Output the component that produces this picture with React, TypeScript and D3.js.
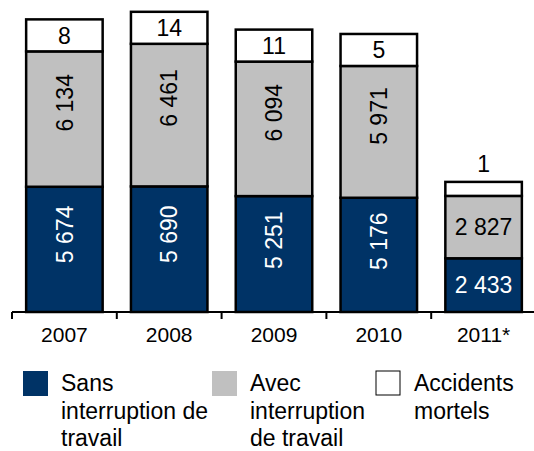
import React from "react";
import * as d3 from "d3";

// data
const years = ["2007", "2008", "2009", "2010", "2011*"];
const sansInterruption = [5674, 5690, 5251, 5176, 2433];
const avecInterruption = [6134, 6461, 6094, 5971, 2827];
const accidentsMortels = [8, 14, 11, 5, 1];
const legendLabels = [
  ["Sans", "interruption de", "travail"],
  ["Avec", "interruption", "de travail"],
  ["Accidents", "mortels"],
];

const W = 534;
const H = 451;
const FONT = "'Liberation Sans', Arial, Helvetica, sans-serif";
const BLUE = "#003366";
const GREY = "#c0c0c0";
const fmt = (v: number) => d3.format(",")(v).replace(/,/g, " ");

export default function App() {
  const base = 312;
  const x = d3
    .scaleBand<string>()
    .domain(years)
    .range([12, 536])
    .paddingInner(0.27)
    .paddingOuter(0.135);
  const y = d3.scaleLinear().domain([0, 14000]).range([base, 3]);

  const stack = years.map((yr, i) => {
    const b = sansInterruption[i];
    const g = avecInterruption[i];
    return { yr, i, b, g, m: accidentsMortels[i], y0: y(0), y1: y(b), y2: y(b + g) };
  });

  const bw = x.bandwidth();
  const step = x.step();
  const last = years.length - 1;

  return (
    <svg
      width={W}
      height={H}
      style={{ position: "absolute", left: 0, top: 0, background: "#fff" }}
      fontFamily={FONT}
    >
      {stack.map((d) => {
        const x0 = x(d.yr)!;
        const cx = x0 + bw / 2;
        const compact = d.i === last;
        const boxH = compact ? 14 : 32;
        const horiz = compact; // short segments get horizontal labels
        const blueMid = d.y1 + (d.y0 - d.y1) * (horiz ? 0.5 : 0.38);
        const greyMid = d.y2 + (d.y1 - d.y2) * (horiz ? 0.5 : 0.38);
        return (
          <g key={d.yr}>
            <rect x={x0} y={d.y1} width={bw} height={d.y0 - d.y1} fill={BLUE} stroke="#000" strokeWidth={2.5} />
            <rect x={x0} y={d.y2} width={bw} height={d.y1 - d.y2} fill={GREY} stroke="#000" strokeWidth={2.5} />
            <rect x={x0} y={d.y2 - boxH} width={bw} height={boxH} fill="#fff" stroke="#000" strokeWidth={2.5} />
            {horiz ? (
              <>
                <text x={cx} y={blueMid} dy="0.36em" textAnchor="middle" fontSize={23} fill="#fff">{fmt(d.b)}</text>
                <text x={cx} y={greyMid} dy="0.36em" textAnchor="middle" fontSize={23} fill="#000">{fmt(d.g)}</text>
              </>
            ) : (
              <>
                <text transform={`translate(${cx},${blueMid}) rotate(-90)`} dy="0.36em" textAnchor="middle" fontSize={23} fill="#fff">{fmt(d.b)}</text>
                <text transform={`translate(${cx},${greyMid}) rotate(-90)`} dy="0.36em" textAnchor="middle" fontSize={23} fill="#000">{fmt(d.g)}</text>
              </>
            )}
            <text
              x={cx}
              y={compact ? d.y2 - boxH - 18 : d.y2 - boxH / 2}
              dy="0.36em"
              textAnchor="middle"
              fontSize={23}
              fill="#000"
            >
              {d.m}
            </text>
            <text x={cx} y={342} textAnchor="middle" fontSize={21} fill="#000">{d.yr}</text>
          </g>
        );
      })}

      {/* axis */}
      <line x1={12} x2={W} y1={base} y2={base} stroke="#000" strokeWidth={2} />
      {d3.range(years.length + 1).map((k) => (
        <line key={k} x1={12 + k * step} x2={12 + k * step} y1={base} y2={base + 7} stroke="#000" strokeWidth={2} />
      ))}

      {/* legend */}
      {legendLabels.map((lines, i) => {
        const lx = [23, 212, 376][i];
        const fill = [BLUE, GREY, "#fff"][i];
        return (
          <g key={i}>
            <rect
              x={lx}
              y={371}
              width={i === 2 ? 24 : 25}
              height={i === 2 ? 24 : 25}
              fill={fill}
              stroke={i === 2 ? "#000" : "none"}
              strokeWidth={1}
            />
            {lines.map((t, j) => (
              <text key={j} x={lx + 38} y={391 + j * 27.5} fontSize={23} fill="#000">{t}</text>
            ))}
          </g>
        );
      })}
    </svg>
  );
}
